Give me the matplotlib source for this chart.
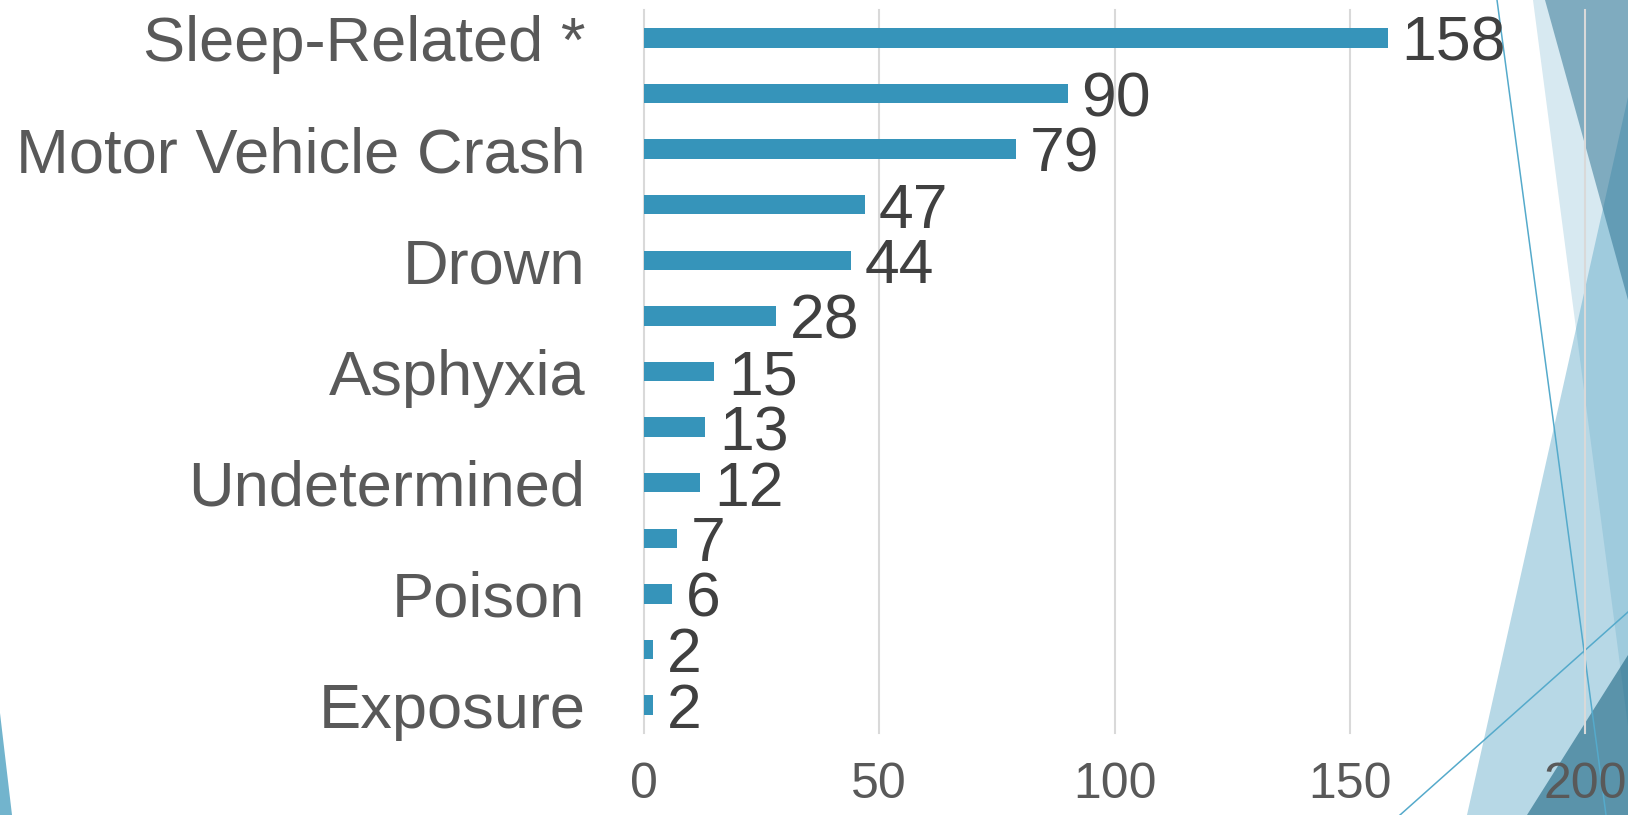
import numpy as np
import matplotlib
matplotlib.use('Agg')
import matplotlib.pyplot as plt
from matplotlib.patches import Polygon
from matplotlib.lines import Line2D

# categories (only every other label is readable in the source)
categories = ['Sleep-Related *', '', 'Motor Vehicle Crash', '', 'Drown', '',
              'Asphyxia', '', 'Undetermined', '', 'Poison', '', 'Exposure']
deaths = [158, 90, 79, 47, 44, 28, 15, 13, 12, 7, 6, 2, 2]
xticks = [0, 50, 100, 150, 200]

W, H = 1628, 815
fig = plt.figure(figsize=(W / 100, H / 100), dpi=100)
ax = fig.add_axes([643.7 / W, 1 - 733 / H, (1585.5 - 643.7) / W, (733 - 10) / H])
ax.patch.set_alpha(0)


def px(pts):
    return [(x / W, 1 - y / H) for x, y in pts]


# slide background decoration
shapes = [
    ([(1533, 0), (1628, 0), (1628, 726)], '#d7e9f1', 1.0),
    ([(1467, 815), (1628, 97), (1628, 815)], '#4b9ec1', 0.4),
    ([(1545, 0), (1628, 0), (1628, 300)], '#296f8f', 0.5),
    ([(1527, 815), (1628, 655), (1628, 815)], '#1c6582', 0.6),
    ([(0, 713), (12, 815), (0, 815)], '#72b4cd', 1.0),
]
for pts, c, a in shapes:
    fig.add_artist(Polygon(px(pts), closed=True, transform=fig.transFigure,
                           facecolor=c, alpha=a, edgecolor='none', zorder=-2))
for (x0, y0), (x1, y1) in [((1497, 0), (1606, 815)), ((1400, 815), (1628, 612))]:
    fig.add_artist(Line2D([x0 / W, x1 / W], [1 - y0 / H, 1 - y1 / H], transform=fig.transFigure,
                          color='#55aacb', lw=1.1, zorder=-1))

y = np.arange(len(deaths))
ax.barh(y, deaths, height=0.35, color='#3694ba', zorder=2)

for yi, v in zip(y, deaths):
    ax.annotate(str(v), (v, yi), xytext=(10, -16.5), textcoords='offset points',
                va='baseline', ha='left', fontsize=45, color='#404040',
                family='Liberation Sans', zorder=3)

ax.set_xlim(0, 200)
ax.set_ylim(12.5, -0.5)
ax.set_xticks(xticks)
ax.set_yticks(y)
ax.set_yticklabels(categories, fontsize=45.5, color='#595959', family='Liberation Sans')
for lab in ax.get_xticklabels():
    lab.set_family('Liberation Sans')
    lab.set_fontsize(36)
    lab.set_color('#595959')
ax.tick_params(axis='y', length=0, pad=42)
ax.tick_params(axis='x', length=0, pad=21)
ax.xaxis.grid(True, color='#d9d9d9', lw=1.5, zorder=0)
for gl in ax.get_xgridlines():
    gl.set_clip_on(False)
ax.set_axisbelow(True)
for s in ax.spines.values():
    s.set_visible(False)

fig.savefig('out.png', dpi=100)
